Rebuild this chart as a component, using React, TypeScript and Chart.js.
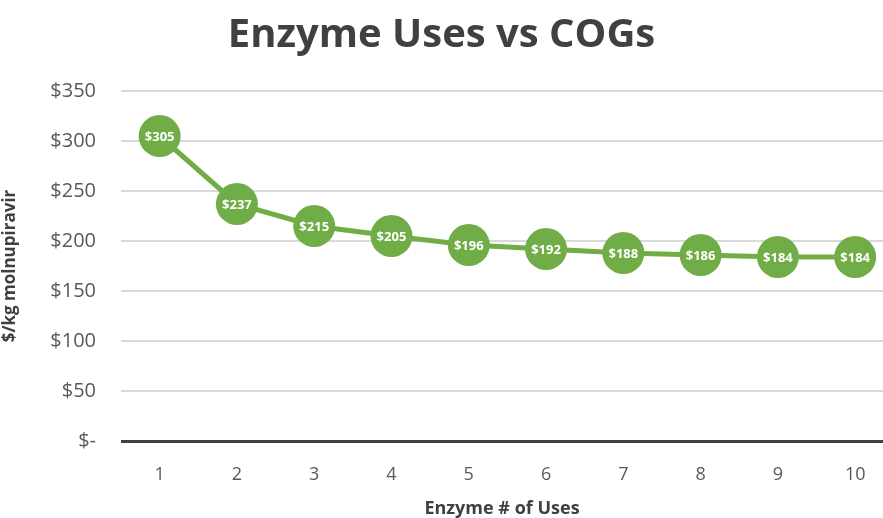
import React, { useEffect, useRef } from "react";
import { Chart, registerables } from "chart.js";

Chart.register(...registerables);

const uses = [1, 2, 3, 4, 5, 6, 7, 8, 9, 10];
const cogs = [305, 237, 215, 205, 196, 192, 188, 186, 184, 184];
const yTicks = [0, 50, 100, 150, 200, 250, 300, 350];

const title = "Enzyme Uses vs COGs";
const xTitle = "Enzyme # of Uses";
const yTitle = "$/kg molnupiravir";

const GREEN = "#70AD47";
const FONT = "'Open Sans', 'DejaVu Sans', sans-serif";

const labelPlugin = {
  id: "pointLabels",
  afterDatasetsDraw(chart: any) {
    const ctx = chart.ctx;
    const meta = chart.getDatasetMeta(0);
    ctx.save();
    ctx.fillStyle = "#ffffff";
    ctx.font = `bold 13px ${FONT}`;
    ctx.textAlign = "center";
    ctx.textBaseline = "middle";
    meta.data.forEach((pt: any, i: number) => {
      ctx.fillText(`$${cogs[i]}`, pt.x, pt.y + 1);
    });
    ctx.restore();
  },
};

export default function App() {
  const ref = useRef<HTMLCanvasElement | null>(null);
  useEffect(() => {
    if (!ref.current) return;
    const chart = new Chart(ref.current, {
      type: "line",
      data: {
        datasets: [
          {
            data: uses.map((u, i) => ({ x: u, y: cogs[i] })),
            borderColor: GREEN,
            backgroundColor: GREEN,
            borderWidth: 5,
            pointRadius: 21,
            pointHoverRadius: 21,
            pointBorderWidth: 0,
            pointBackgroundColor: GREEN,
            tension: 0,
            clip: false as any,
          },
        ],
      },
      options: {
        animation: false,
        responsive: true,
        maintainAspectRatio: false,
        layout: { padding: 0, autoPadding: false },
        plugins: {
          legend: { display: false },
          tooltip: { enabled: false },
          title: {
            display: true,
            text: title,
            color: "#404040",
            font: { family: FONT, size: 40, weight: "bold" },
            padding: { top: 12, bottom: 31 },
          },
        },
        scales: {
          x: {
            type: "linear",
            min: 0.5,
            max: 10.36,
            afterBuildTicks: (scale: any) => {
              scale.ticks = uses.map((v) => ({ value: v }));
            },
            afterFit: (scale: any) => {
              scale.height = 77;
              scale.paddingLeft = 0;
              scale.paddingRight = 0;
            },
            grid: { display: false },
            border: { display: false },
            ticks: {
              color: "#595959",
              font: { family: FONT, size: 18 },
              padding: 15,
              maxRotation: 0,
              callback: (v: any) => String(v),
            },
            title: {
              display: true,
              text: xTitle,
              color: "#404040",
              font: { family: FONT, size: 18, weight: "bold" },
              padding: { top: 10, bottom: -2 },
            },
          },
          y: {
            min: 0,
            max: 350,
            afterBuildTicks: (scale: any) => {
              scale.ticks = yTicks.map((v) => ({ value: v }));
            },
            afterFit: (scale: any) => {
              scale.width = 121;
            },
            border: { display: false },
            grid: {
              drawTicks: false,
              color: (c: any) => (c.tick && c.tick.value === 0 ? "#404040" : "#d9d9d9"),
              lineWidth: (c: any) => (c.tick && c.tick.value === 0 ? 3 : 2),
            },
            ticks: {
              color: "#595959",
              font: { family: FONT, size: 20 },
              padding: 25,
              callback: (v: any) => (Number(v) === 0 ? "$-" : `$${v}`),
            },
            title: {
              display: true,
              text: yTitle,
              color: "#404040",
              font: { family: FONT, size: 17, weight: "bold" },
              padding: { top: 0, bottom: 0 },
            },
          },
        },
      } as any,
      plugins: [labelPlugin],
    });
    return () => chart.destroy();
  }, []);
  return (
    <div style={{ position: "fixed", left: 0, top: 0, width: 883, height: 518, background: "#fff" }}>
      <canvas ref={ref} />
    </div>
  );
}
